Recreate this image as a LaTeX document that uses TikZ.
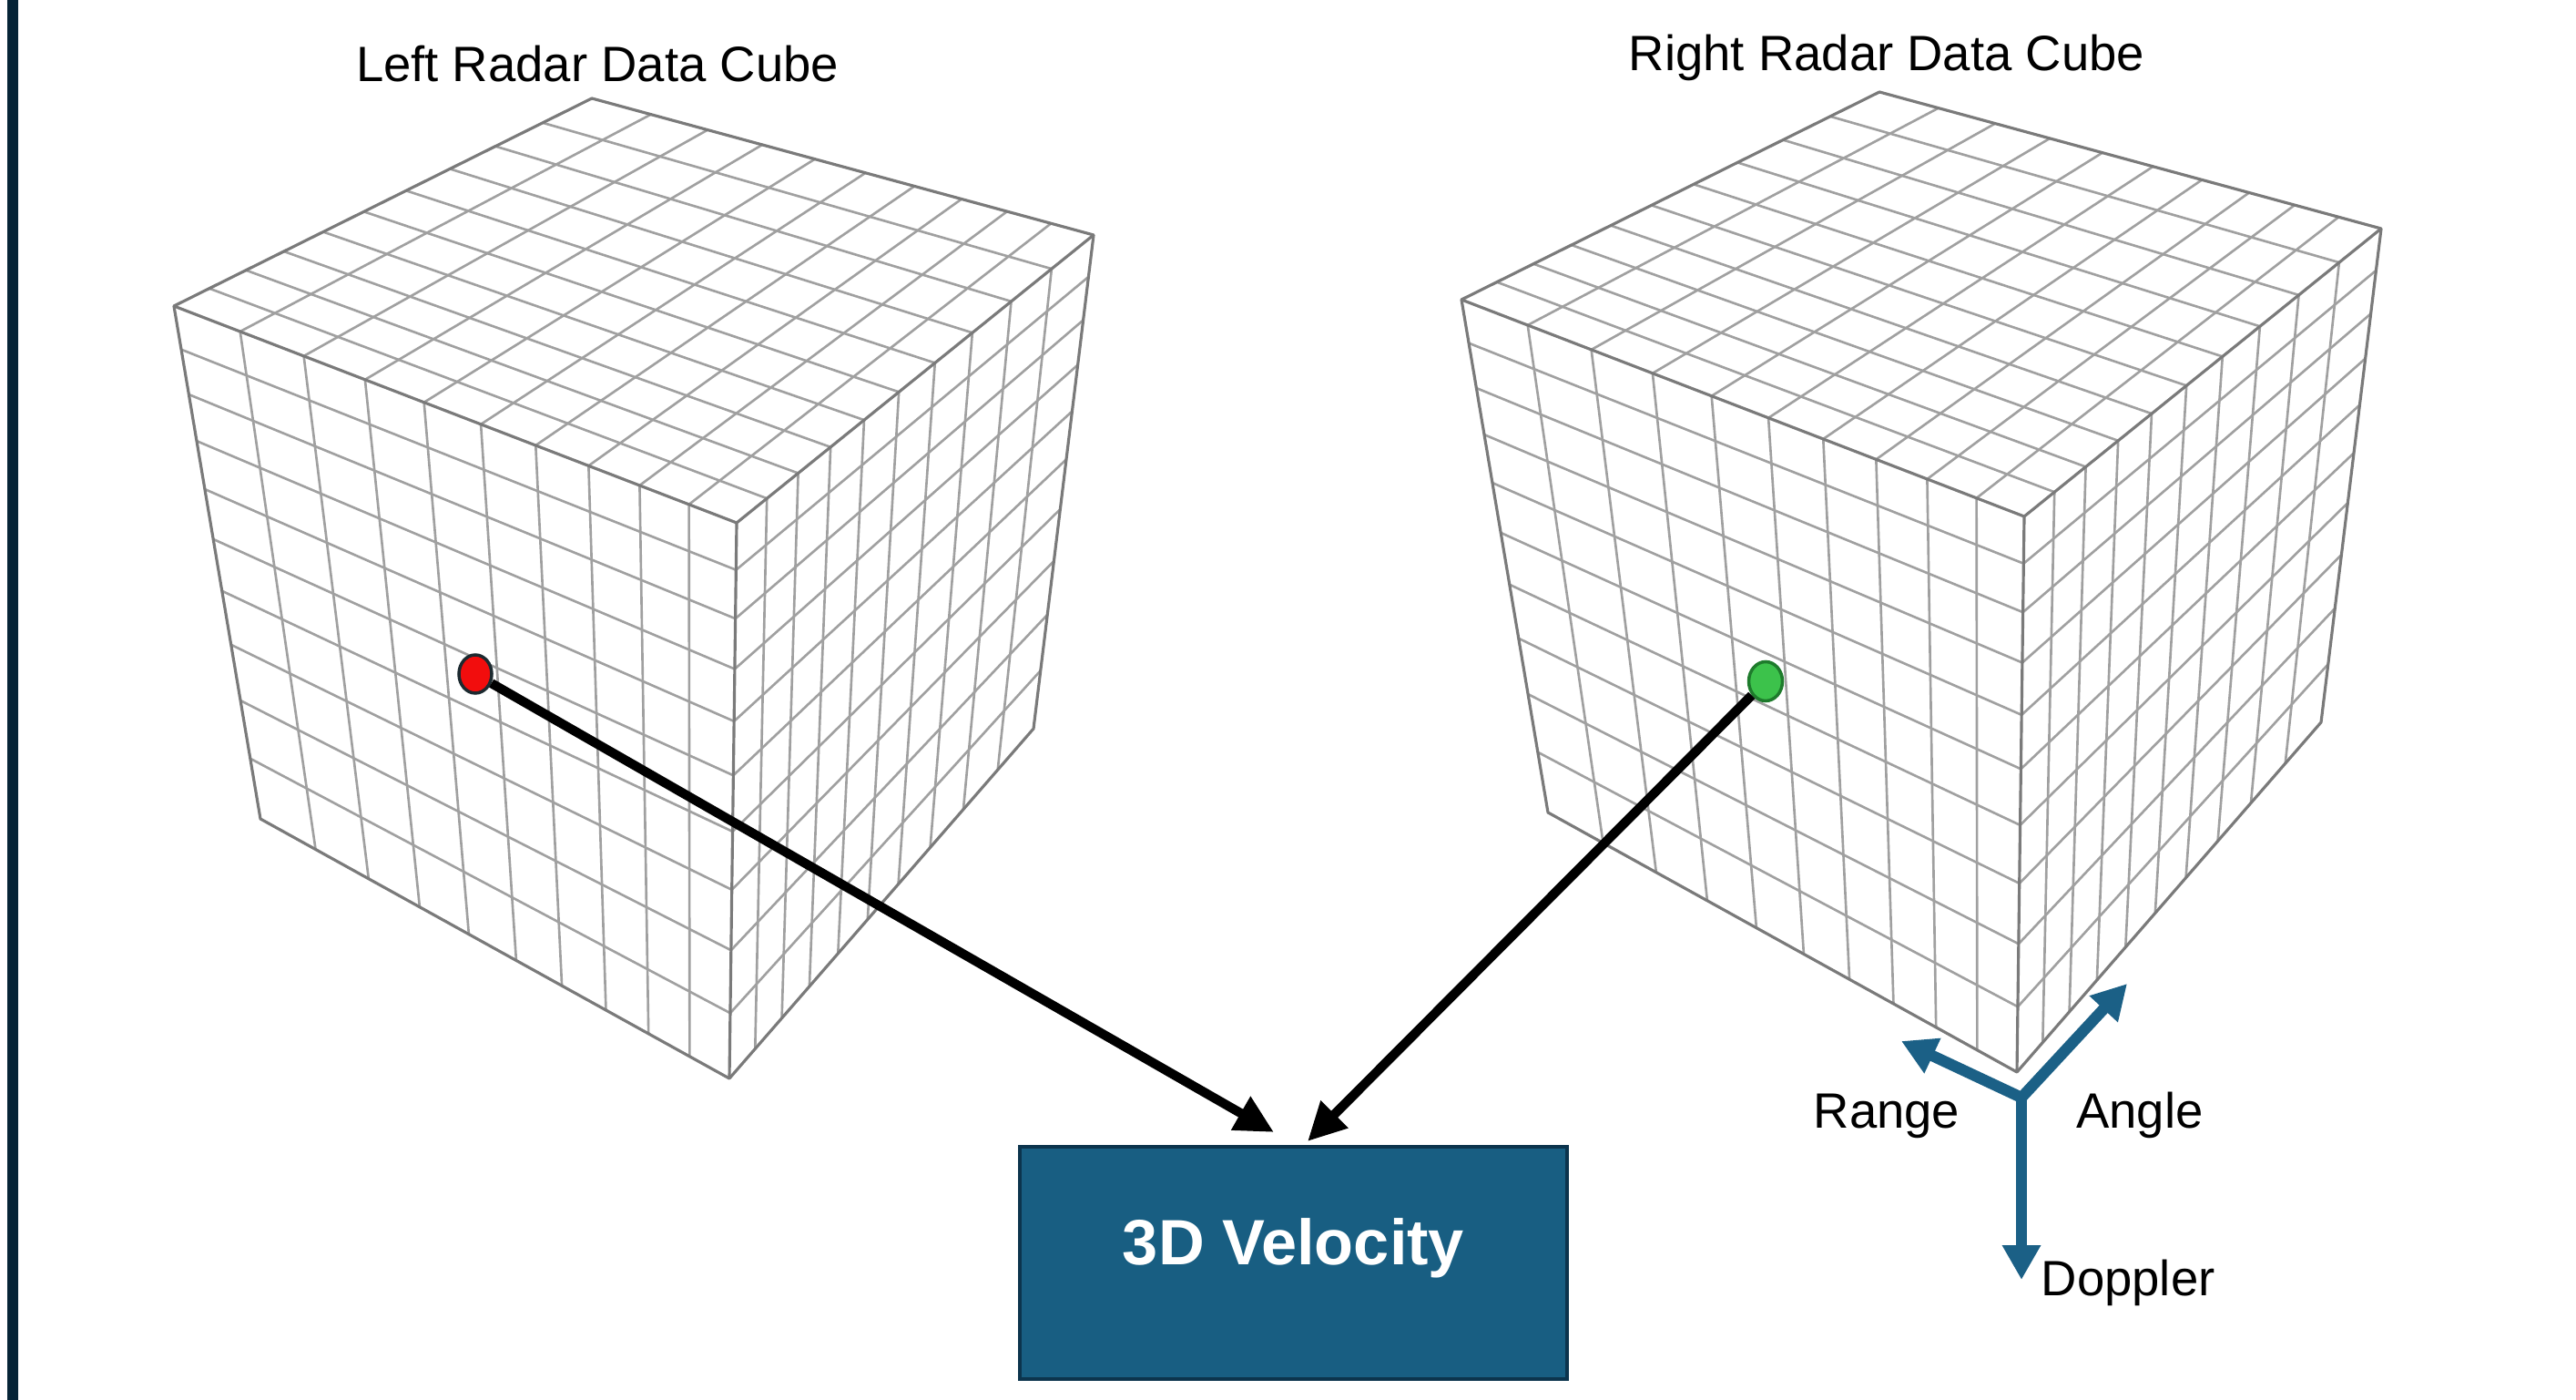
\documentclass[tikz,border=0pt]{standalone}
\usepackage{fontspec}
\setmainfont{Liberation Sans}
\usetikzlibrary{arrows.meta,calc,shapes.geometric}
\definecolor{sidebar}{HTML}{062436}
\definecolor{gridgray}{HTML}{A0A0A0}
\definecolor{edgegray}{HTML}{7A7A7A}
\definecolor{velblue}{HTML}{185E82}
\definecolor{veledge}{HTML}{0C344D}
\definecolor{axisblue}{HTML}{1B6086}
\definecolor{dotred}{HTML}{F20D0D}
\definecolor{dotredge}{HTML}{1C2A30}
\definecolor{dotgreen}{HTML}{3CC24B}
\definecolor{dotgedge}{HTML}{1E7B2C}

% perspective cube, 10 cells per edge
\newcommand{\datacube}[1]{%
  \begin{scope}[shift={#1}]
    \coordinate (T) at (6.50,-1.08);
    \coordinate (L) at (1.91,-3.36);
    \coordinate (R) at (12.01,-2.58);
    \coordinate (F) at (8.09,-5.74);
    \coordinate (LB) at (2.86,-8.99);
    \coordinate (FB) at (8.01,-11.84);
    \coordinate (RB) at (11.35,-8.00);
    \foreach \i in {1,...,9}{
      \pgfmathsetmacro\gpos{\i*1.2/(10-\i+\i*1.2)}
      % top face
      \draw[gridline] ($(T)!\gpos!(L)$) -- ($(R)!\gpos!(F)$);
      \draw[gridline] ($(T)!\gpos!(R)$) -- ($(L)!\gpos!(F)$);
      % left face
      \draw[gridline] ($(L)!\gpos!(F)$) -- ($(LB)!\gpos!(FB)$);
      \draw[gridline] ($(LB)!\gpos!(L)$) -- ($(FB)!\gpos!(F)$);
      % right face
      \draw[gridline] ($(R)!\gpos!(F)$) -- ($(RB)!\gpos!(FB)$);
      \draw[gridline] ($(RB)!\gpos!(R)$) -- ($(FB)!\gpos!(F)$);
    }
    \draw[cubeedge] (T) -- (R) -- (RB) -- (FB) -- (LB) -- (L) -- cycle;
    \draw[cubeedge] (L) -- (F) -- (R) (F) -- (FB);
  \end{scope}}

\begin{document}
\begin{tikzpicture}[
    gridline/.style={gridgray,line width=0.75pt},
    cubeedge/.style={edgegray,line width=0.9pt,line join=round},
    title/.style={font=\fontsize{15.5}{18}\selectfont,anchor=base,inner sep=0pt},
    axislabel/.style={font=\fontsize{15.5}{18}\selectfont,inner sep=0pt},
    bin/.style={ellipse,line width=1pt,inner sep=0pt,minimum width=0.36cm,minimum height=0.42cm},
    link/.style={black,line width=2.9pt,-{Triangle[length=0.42cm,width=0.40cm]}},
    axis/.style={axisblue,line width=3.5pt,line join=miter},
    velbox/.style={fill=velblue,draw=veledge,line width=1.4pt,minimum width=6.01cm,minimum height=2.55cm,
      text=white,font=\fontsize{20}{24}\selectfont\bfseries,text height=0.5cm,text depth=0.46cm}
  ]
  \useasboundingbox (0,0) rectangle (28.29,-15.37);
  \fill[sidebar] (0.08,0) rectangle (0.20,-15.37);

  % Cubes
  \datacube{(0,0)}
  \datacube{(14.14,0.07)}
  \node[title] (lefttitle) at (6.56,-0.90) {Left Radar Data Cube};
  \node[title] (righttitle) at (20.72,-0.78) {Right Radar Data Cube};

  % Selected bins
  \node[bin,fill=dotred,draw=dotredge] (redbin) at (5.22,-7.40) {};
  \node[bin,fill=dotgreen,draw=dotgedge,minimum width=0.37cm,minimum height=0.43cm] (greenbin) at (19.39,-7.48) {};

  % Output
  \node[velbox] (vel) at (14.205,-13.865) {3D Velocity};
  \coordinate (inleft) at (13.99,-12.43);
  \coordinate (inright) at (14.36,-12.53);
  \draw[link] (redbin) -- (inleft);
  \draw[link] (greenbin) -- (inright);

  % Axes
  \coordinate (origin) at (22.20,-12.05);
  \coordinate (rangetip) at (20.88,-11.43);
  \coordinate (angletip) at (23.36,-10.80);
  \coordinate (dopplertip) at (22.20,-14.05);
  \draw[axis,{Triangle[length=0.38cm,width=0.40cm]}-{Triangle[length=0.38cm,width=0.40cm]}] (rangetip) -- (origin) -- (angletip);
  \draw[axis,-{Triangle[length=0.38cm,width=0.40cm]}] (origin) -- (dopplertip);
  \node[axislabel,anchor=base] (rangelabel) at (20.72,-12.39) {Range};
  \node[axislabel,anchor=base] (anglelabel) at (23.50,-12.38) {Angle};
  \node[axislabel,anchor=base west] (dopplerlabel) at (22.41,-14.22) {Doppler};
\end{tikzpicture}
\end{document}
